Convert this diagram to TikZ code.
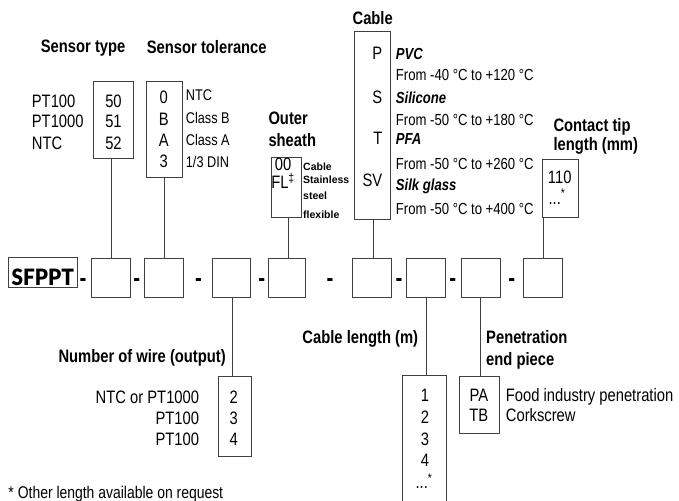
\documentclass[tikz,border=0pt]{standalone}
\usepackage{fontspec}
\setmainfont{Liberation Sans}[FakeStretch=0.82]
\newfontfamily\widefont{Liberation Sans}
\newfontfamily\logofont{Lato}[UprightFont={* Black}, FakeStretch=0.92]
\begin{document}
\begin{tikzpicture}[x=1pt,y=-1pt,
  box/.style={draw=black!75, line width=1pt, inner sep=0, minimum width=#1},
  conn/.style={draw=black!75, line width=1pt},
  hd/.style={inner sep=0, anchor=base west, font=\fontsize{18}{21}\selectfont\bfseries},
  rg/.style={inner sep=0, anchor=base, font=\fontsize{18}{21}\selectfont},
  sm/.style={inner sep=0, anchor=base west, font=\fontsize{15.5}{18}\selectfont},
  tmp/.style={inner sep=0, anchor=base west, font=\fontsize{16}{19}\selectfont},
  tmpb/.style={inner sep=0, anchor=base west, font=\fontsize{16}{19}\selectfont\bfseries\itshape},
  tiny/.style={inner sep=0, anchor=base west, font=\widefont\fontsize{10.5}{12}\selectfont\bfseries},
  dsh/.style={inner sep=0, anchor=base, font=\fontsize{25}{25}\selectfont\bfseries}
]
\useasboundingbox (0,0) rectangle (679,500);

% ---------- headings ----------
\node[hd] (hst) at (40.7,53) {Sensor type};
\node[hd] (htol) at (146.7,53.5) {Sensor tolerance};
\node[hd,anchor=base] (hcab) at (372.7,24.8) {Cable};
\node[hd] (hosa) at (268.3,124.5) {Outer};
\node[hd] (hosb) at (268.3,146.5) {sheath};
\node[hd] (hcta) at (553.3,131.7) {Contact tip};
\node[hd] (hctb) at (553.3,150) {length (mm)};
\node[hd] (hwire) at (58.3,362) {Number of wire (output)};
\node[hd,anchor=base east] (hcl) at (418.3,343.3) {Cable length (m)};
\node[hd] (hpena) at (486,343.3) {Penetration};
\node[hd] (hpenb) at (486,365) {end piece};

% ---------- top boxes ----------
\node[box=40, minimum height=76] (st) at (113,120) {};
\node[box=36, minimum height=95] (tol) at (164,129.5) {};
\node[box=29.5, minimum height=60] (os) at (286.7,187) {};
\node[box=36, minimum height=187] (cab) at (372,125.5) {};
\node[box=36, minimum height=58] (ct) at (560,188) {};

% sensor type
\node[rg,anchor=base west] (pt1) at (31.7,107) {PT100};
\node[rg,anchor=base west] (pt2) at (31.7,128) {PT1000};
\node[rg,anchor=base west] (pt3) at (31.7,149) {NTC};
\node[rg] (n50) at (113.5,107) {50};
\node[rg] (n51) at (113.5,128) {51};
\node[rg] (n52) at (113.5,149) {52};

% tolerance
\node[rg] (t0) at (163.8,103.5) {0};
\node[rg] (tB) at (163.8,125) {B};
\node[rg] (tA) at (163.8,146.3) {A};
\node[rg] (t3) at (163.8,167.6) {3};
\node[sm] (lt0) at (185.7,100.5) {NTC};
\node[sm] (ltB) at (185.7,123) {Class B};
\node[sm] (ltA) at (185.7,145) {Class A};
\node[sm] (lt3) at (185.7,167.3) {1/3 DIN};

% outer sheath
\node[rg] (o00) at (283,170) {00};
\node[rg] (oFL) at (283,188.5) {FL\textsuperscript{‡}};
\node[tiny] (oc1) at (303,170) {Cable};
\node[tiny] (oc2) at (303,183) {Stainless};
\node[tiny] (oc3) at (303,199) {steel};
\node[tiny] (oc4) at (303,218) {flexible};

% cable
\node[rg,anchor=base east] (cP) at (382.5,60) {P};
\node[rg,anchor=base east] (cS) at (382.5,103.3) {S};
\node[rg,anchor=base east] (cT) at (382.5,144) {T};
\node[rg,anchor=base east] (cSV) at (382.5,186.7) {SV};
\node[tmpb] (m1) at (395.7,59.3) {PVC};
\node[tmp] (r1) at (395.7,81) {From -40 °C to +120 °C};
\node[tmpb] (m2) at (395.7,103.3) {Silicone};
\node[tmp] (r2) at (395.7,125) {From -50 °C to +180 °C};
\node[tmpb] (m3) at (395.7,144) {PFA};
\node[tmp] (r3) at (395.7,169.3) {From -50 °C to +260 °C};
\node[tmpb] (m4) at (395.7,190.7) {Silk glass};
\node[tmp] (r4) at (395.7,214.3) {From -50 °C to +400 °C};

% contact tip
\node[rg] (c110) at (559.7,183.3) {110};
\node[rg] (cdots) at (557,204) {...\textsuperscript{*}};

% ---------- main row ----------
\node[box=69, minimum height=30] (logo) at (42.8,272.7) {};
\node[inner sep=0, anchor=base, font=\logofont\fontsize{22.5}{22.5}\selectfont] (logot) at (42.8,285) {SFPPT};
\node[box=39, minimum height=39.5] (b1) at (110.5,277.8) {};
\node[box=38.3, minimum height=39.5] (b2) at (163.9,277.8) {};
\node[box=38, minimum height=39.5] (b3) at (231.7,277.8) {};
\node[box=37.2, minimum height=39.5] (b4) at (286.9,277.8) {};
\node[box=39, minimum height=39.5] (b5) at (372.2,277.8) {};
\node[box=38.3, minimum height=39.5] (b6) at (425.9,277.8) {};
\node[box=38.5, minimum height=39.5] (b7) at (480.8,277.8) {};
\node[box=38.7, minimum height=39.5] (b8) at (542.7,277.8) {};

\node[dsh] (d1) at (83,286) {-};
\node[dsh] (d2) at (136.7,286) {-};
\node[dsh] (d3) at (198.5,286) {-};
\node[dsh] (d4) at (261.7,286) {-};
\node[dsh] (d5) at (330,286) {-};
\node[dsh] (d6) at (399,286) {-};
\node[dsh] (d7) at (452.7,286) {-};
\node[dsh] (d8) at (511.7,286) {-};

% ---------- bottom boxes ----------
\node[box=33.4, minimum height=80] (wire) at (235,416) {};
\node[box=43.7, minimum height=135] (cl) at (424.2,442.5) {};
\node[box=39.7, minimum height=57.3] (pen) at (479.2,404.7) {};

% wires
\node[rg] (w2) at (233.7,403.3) {2};
\node[rg] (w3) at (233.7,424) {3};
\node[rg] (w4) at (233.7,445.7) {4};
\node[rg,anchor=base east] (lw2) at (199.3,403.3) {NTC or PT1000};
\node[rg,anchor=base east] (lw3) at (199.3,424) {PT100};
\node[rg,anchor=base east] (lw4) at (199.3,445.7) {PT100};

% cable length
\node[rg] (l1) at (425,401.7) {1};
\node[rg] (l2) at (425,423.3) {2};
\node[rg] (l3) at (425,445.7) {3};
\node[rg] (l4) at (425,466.7) {4};
\node[rg] (ldots) at (424,488.3) {...\textsuperscript{*}};

% penetration
\node[rg] (pPA) at (478.8,401.7) {PA};
\node[rg] (pTB) at (478.8,421.7) {TB};
\node[rg,anchor=base west] (lPA) at (505.7,401.7) {Food industry penetration};
\node[rg,anchor=base west] (lTB) at (505.7,421.7) {Corkscrew};

% footnote
\node[inner sep=0, anchor=base west, font=\fontsize{17}{20}\selectfont] (fn) at (8.3,498) {* Other length available on request};

% ---------- connectors ----------
\draw[conn] (st.south -| 111.7,0) -- (b1.north -| 111.7,0);
\draw[conn] (tol.south -| 164.3,0) -- (b2.north -| 164.3,0);
\draw[conn] (os.south -| 288.3,0) -- (b4.north -| 288.3,0);
\draw[conn] (cab.south -| 373.3,0) -- (b5.north -| 373.3,0);
\draw[conn] (b8.north -| 543.5,0) -- (ct.south -| 543.5,0);
\draw[conn] (b3.south -| 232.7,0) -- (wire.north -| 232.7,0);
\draw[conn] (b6.south -| 426,0) -- (cl.north -| 426,0);
\draw[conn] (b7.south -| 480,0) -- (pen.north -| 480,0);
\end{tikzpicture}
\end{document}
